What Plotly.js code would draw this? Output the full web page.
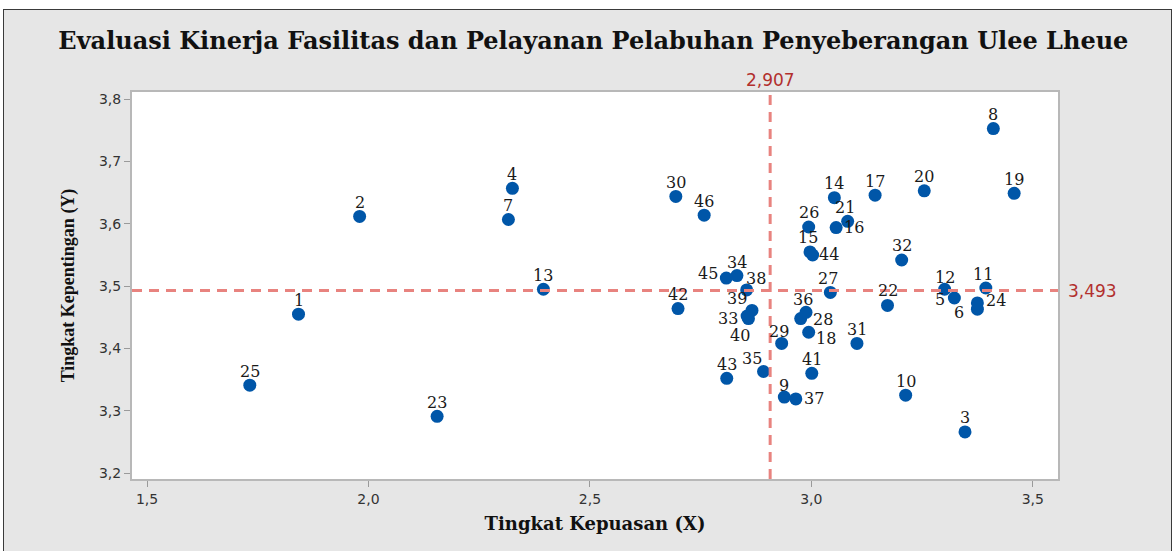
<!DOCTYPE html>
<html>
<head>
<meta charset="utf-8">
<script src="https://cdn.plot.ly/plotly-3.0.1.min.js"></script>
<style>
  html, body { margin: 0; padding: 0; background: #ffffff; }
  #bg { position: absolute; left: 3px; top: 9px; width: 1167px; height: 541px; background: #e6e6e6; border: 1px solid #3a3a3a; }
  #plot { position: absolute; left: 0; top: 0; width: 1175px; height: 551px; }
</style>
</head>
<body>
<div id="bg"></div>
<div id="plot"></div>
<script>
// Point labels (attribute numbers)
const labels = ['1','2','3','4','5','6','7','8','9','10','11','12','13','14','15','16','17','18','19','20','21','22','23','24','25','26','27','28','29','30','31','32','33','34','35','36','37','38','39','40','41','42','43','44','45','46'];
// Tingkat Kepuasan (X)
const kepuasan = [1.842,1.980,3.347,2.325,3.323,3.375,2.316,3.411,2.939,3.213,3.394,3.301,2.395,3.052,2.997,3.056,3.144,2.994,3.458,3.255,3.082,3.172,2.155,3.375,1.732,2.994,3.043,2.976,2.933,2.694,3.103,3.204,2.858,2.832,2.892,2.988,2.965,2.854,2.866,2.855,3.001,2.699,2.809,3.003,2.808,2.758];
// Tingkat Kepentingan (Y)
const kepentingan = [3.455,3.612,3.266,3.657,3.481,3.463,3.607,3.753,3.322,3.325,3.497,3.495,3.495,3.642,3.555,3.594,3.646,3.426,3.649,3.653,3.604,3.469,3.291,3.473,3.341,3.595,3.490,3.448,3.408,3.644,3.408,3.542,3.448,3.517,3.363,3.458,3.319,3.494,3.461,3.452,3.360,3.464,3.352,3.550,3.513,3.614];
// Reference (mean) lines
const meanX = 2.907;
const meanY = 3.493;
const xTicks = [1.5, 2.0, 2.5, 3.0, 3.5];
const yTicks = [3.2, 3.3, 3.4, 3.5, 3.6, 3.7, 3.8];

const fmt = v => v.toFixed(3).replace('.', ',');

// label placement offsets in pixels [dx, dy(up)] – default is above the point
const labelOffset = {
  '5': [-14, -2], '6': [-18, -3], '24': [19, 2], '16': [18, 0], '44': [16, 1],
  '18': [17, -6], '28': [22, -1], '33': [-20, 0], '35': [-12, 13], '37': [18, 0],
  '38': [9, 11], '39': [-15, 12], '40': [-7, -19], '45': [-18, 5], '34': [0, 13],
  '36': [-3, 13], '21': [-3, 14], '15': [-2, 14], '9': [0, 12], '29': [-3, 12],
  '12': [0, 12], '11': [-3, 14], '22': [0, 15], '27': [-2, 14], '41': [0, 14]
};

const trace = {
  type: 'scatter',
  mode: 'markers',
  x: kepuasan,
  y: kepentingan,
  text: labels,
  marker: { color: '#0056a8', size: 13, line: { width: 0 } },
  cliponaxis: false,
  hoverinfo: 'x+y+text'
};

const pointLabels = labels.map((l, i) => {
  const off = labelOffset[l] || [0, 14];
  return {
    xref: 'x', yref: 'y', x: kepuasan[i], y: kepentingan[i],
    text: l, showarrow: false, xanchor: 'center', yanchor: 'middle',
    xshift: off[0], yshift: off[1], borderpad: 0,
    font: { family: 'DejaVu Serif', size: 16, color: '#1a1a1a' }
  };
});

const axisCommon = {
  showgrid: false,
  zeroline: false,
  showline: true,
  mirror: true,
  linecolor: '#b8b8b8',
  linewidth: 2,
  ticks: 'outside',
  ticklen: 6,
  tickwidth: 1,
  tickcolor: '#9a9a9a',
  tickformat: '.1f',
  tickfont: { family: 'DejaVu Sans', size: 14, color: '#333333' }
};

const layout = {
  width: 1175,
  height: 551,
  margin: { l: 132, r: 117, t: 92, b: 72, pad: 0 },
  paper_bgcolor: 'rgba(0,0,0,0)',
  plot_bgcolor: '#ffffff',
  separators: ',.',
  showlegend: false,
  title: {
    text: 'Evaluasi Kinerja Fasilitas dan Pelayanan Pelabuhan Penyeberangan Ulee Lheue',
    font: { family: 'DejaVu Serif', size: 24, color: '#111111', weight: 'bold' },
    x: 0.505, xref: 'container', xanchor: 'center',
    y: 0.927, yref: 'container', yanchor: 'middle'
  },
  xaxis: Object.assign({}, axisCommon, {
    range: [1.466, 3.557],
    tickvals: xTicks,
    title: { text: 'Tingkat Kepuasan (X)', standoff: 12,
      font: { family: 'DejaVu Serif', size: 18, color: '#111111', weight: 'bold' } }
  }),
  yaxis: Object.assign({}, axisCommon, {
    range: [3.1904, 3.8117],
    tickvals: yTicks,
    title: { text: 'Tingkat Kepentingan (Y)', standoff: 20,
      font: { family: 'Liberation Serif', size: 18, color: '#111111', weight: 'bold' } }
  }),
  shapes: [
    { type: 'line', xref: 'paper', yref: 'y', x0: 0, x1: 1, y0: meanY, y1: meanY,
      line: { color: '#e8837f', width: 3, dash: '10px,7px' } },
    { type: 'line', xref: 'x', yref: 'paper', x0: meanX, x1: meanX, y0: 0, y1: 1,
      line: { color: '#e8837f', width: 3, dash: '10px,7px' } }
  ],
  annotations: [
    { xref: 'x', yref: 'paper', x: meanX, y: 1, yanchor: 'bottom', xanchor: 'center',
      yshift: 0, showarrow: false, text: fmt(meanX),
      font: { family: 'DejaVu Sans', size: 17, color: '#b2302e' } },
    { xref: 'paper', yref: 'y', x: 1, y: meanY, xanchor: 'left', yanchor: 'middle',
      xshift: 8, showarrow: false, text: fmt(meanY),
      font: { family: 'DejaVu Sans', size: 17, color: '#b2302e' } }
  ].concat(pointLabels)
};

Plotly.newPlot('plot', [trace], layout, { displayModeBar: false, staticPlot: true });
</script>
</body>
</html>
